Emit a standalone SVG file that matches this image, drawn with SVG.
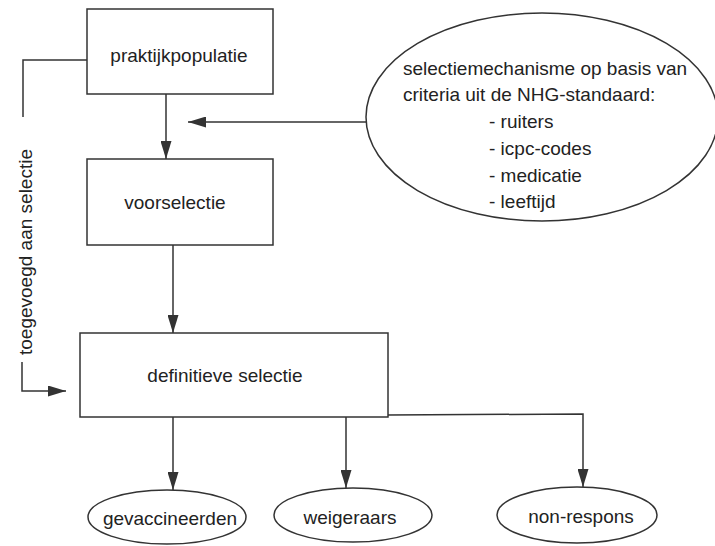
<svg xmlns="http://www.w3.org/2000/svg" width="715" height="546" viewBox="0 0 715 546">
<defs>
<style>
.box{fill:#fff;stroke:#333;stroke-width:1.5}
.ell{fill:#fff;stroke:#333;stroke-width:1.5}
.t{font-family:"Liberation Sans",Arial,sans-serif;font-size:19px;fill:#222}
.c{text-anchor:middle}
.ln{fill:none;stroke:#333;stroke-width:1.5}
</style>
<marker id="ah" viewBox="0 0 18 11" refX="18" refY="5.5" markerWidth="18" markerHeight="11" markerUnits="userSpaceOnUse" orient="auto">
<path d="M0,0 L18,5.5 L0,11 Z" fill="#333"/>
</marker>
</defs>
<rect width="715" height="546" fill="#fff"/>
<g id="connectors">
<line class="ln" x1="166" y1="94" x2="166" y2="159" marker-end="url(#ah)"/>
<line class="ln" x1="366" y1="122" x2="188" y2="122" marker-end="url(#ah)"/>
<line class="ln" x1="173" y1="245" x2="173" y2="333" marker-end="url(#ah)"/>
<polyline class="ln" points="87,60 23,60 23,117"/>
<polyline class="ln" points="22,362 22,391 66,391" marker-end="url(#ah)"/>
<line class="ln" x1="173" y1="417" x2="173" y2="490" marker-end="url(#ah)"/>
<line class="ln" x1="346" y1="417" x2="346" y2="488" marker-end="url(#ah)"/>
<polyline class="ln" points="388,415 583,414 583,487" marker-end="url(#ah)"/>
<text class="t c" transform="translate(32,252) rotate(-90)">toegevoegd aan selectie</text>
</g>
<g id="praktijkpopulatie">
<rect class="box" x="87" y="9" width="186" height="85"/>
<text class="t c" x="179" y="62">praktijkpopulatie</text>
</g>
<g id="voorselectie">
<rect class="box" x="87" y="159" width="186" height="86"/>
<text class="t c" x="175" y="209">voorselectie</text>
</g>
<g id="selectiemechanisme">
<ellipse class="ell" cx="542" cy="117" rx="176" ry="104"/>
<text class="t" x="403" y="75">selectiemechanisme op basis van</text>
<text class="t" x="403" y="101">criteria uit de NHG-standaard:</text>
<text class="t" x="489" y="128">- ruiters</text>
<text class="t" x="489" y="155">- icpc-codes</text>
<text class="t" x="489" y="182">- medicatie</text>
<text class="t" x="489" y="208">- leeftijd</text>
</g>
<g id="definitieve-selectie">
<rect class="box" x="80" y="333" width="308" height="84"/>
<text class="t c" x="225" y="382">definitieve selectie</text>
</g>
<g id="gevaccineerden">
<ellipse class="ell" cx="167" cy="517" rx="79" ry="27"/>
<text class="t c" x="170" y="525">gevaccineerden</text>
</g>
<g id="weigeraars">
<ellipse class="ell" cx="353" cy="515" rx="79" ry="27"/>
<text class="t c" x="350" y="524">weigeraars</text>
</g>
<g id="non-respons">
<ellipse class="ell" cx="577" cy="515" rx="80" ry="28"/>
<text class="t c" x="581" y="523">non-respons</text>
</g>
</svg>
